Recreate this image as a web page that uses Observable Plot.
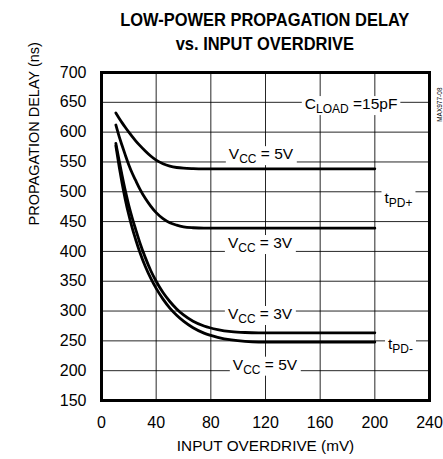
<!DOCTYPE html>
<html>
<head>
<meta charset="utf-8">
<script src="https://cdn.jsdelivr.net/npm/d3@7"></script>
<script src="https://cdn.jsdelivr.net/npm/@observablehq/plot@0.6"></script>
<style>
  html, body { margin: 0; padding: 0; background: #fff; }
  #title {
    margin-left: 101px; width: 328px; height: 62px; box-sizing: border-box;
    padding-top: 8px; text-align: center;
    font-family: "Liberation Sans", Arial, sans-serif; font-weight: bold;
    font-size: 17.5px; line-height: 24px; color: #000; white-space: nowrap;
  }
  #title span { display: inline-block; transform: scaleX(0.94); transform-origin: center; }
  #chart svg { display: block; }
</style>
</head>
<body>
<div id="title"><span>LOW-POWER PROPAGATION DELAY</span><br><span>vs. INPUT OVERDRIVE</span></div>
<div id="chart"></div>
<script>
// ---- data ----
const overdrive_mV = [10.5, 13, 15, 17.5, 20, 22.5, 25, 28, 32, 36, 40, 45, 50, 55, 60, 67, 75, 85, 95, 105, 115, 130, 200];
const tpdPlus_5V  = [632, 623, 616, 607.8, 600, 592.6, 585.5, 577.8, 568.5, 560, 553, 547, 543, 540.7, 539.5, 538.8, 538.5, 538.5, 538.5, 538.5, 538.5, 538.5, 538.5];
const tpdPlus_3V  = [612, 592, 578, 561, 545, 531, 519, 505, 489, 476, 465, 455, 448, 444, 441.3, 439.7, 439, 439, 439, 439, 439, 439, 439];
const tpdMinus_3V = [581, 551, 528, 501, 477, 456, 437, 415, 390, 368, 350, 331, 316, 303.5, 293.5, 283, 275, 269, 265.5, 264, 263.5, 263.5, 263.5];
const tpdMinus_5V = [577, 541, 515, 486, 461, 439, 420, 399, 375, 355, 338, 320, 305, 293, 283, 272, 263, 256, 251.5, 249, 248, 248, 248];
const seriesNames = ["tPD+ VCC=5V", "tPD+ VCC=3V", "tPD- VCC=3V", "tPD- VCC=5V"];
const seriesValues = [tpdPlus_5V, tpdPlus_3V, tpdMinus_3V, tpdMinus_5V];

const xTicks = [0, 40, 80, 120, 160, 200, 240];
const yTicks = [150, 200, 250, 300, 350, 400, 450, 500, 550, 600, 650, 700];

const annText = ["C_{LOAD} =15pF", "V_{CC} = 5V", "t_{PD+}", "V_{CC} = 3V", "V_{CC} = 3V", "t_{PD-}", "V_{CC} = 5V"];
const annX    = [182.6, 116.7, 217.3, 116, 116, 218.8, 119.6];
const annY    = [647, 563, 489, 414, 295, 244, 210];

const xLabel = "INPUT OVERDRIVE (mV)";
const yLabel = "PROPAGATION DELAY (ns)";
const figId = "MAX977-08";

// ---- build table ----
const rows = [];
seriesNames.forEach((name, s) => {
  overdrive_mV.forEach((x, i) => rows.push({series: name, x, y: seriesValues[s][i]}));
});

const font = '"Liberation Sans", Arial, sans-serif';

const svg = Plot.plot({
  width: 443,
  height: 397,
  marginTop: 10,
  marginBottom: 59,
  marginLeft: 101,
  marginRight: 14,
  x: {domain: [0, 240]},
  y: {domain: [150, 700]},
  style: {fontFamily: font, fontSize: "16px", color: "#000", background: "#fff", overflow: "visible"},
  marks: [
    Plot.gridX(xTicks, {stroke: "#000", strokeOpacity: 0.85, strokeWidth: 1}),
    Plot.gridY(yTicks, {stroke: "#000", strokeOpacity: 0.85, strokeWidth: 1}),
    Plot.line(rows, {x: "x", y: "y", z: "series", curve: "monotone-x", stroke: "#000", strokeWidth: 2.8}),
    Plot.frame({stroke: "#000", strokeWidth: 3}),
    Plot.axisX(xTicks, {tickSize: 0, tickPadding: 16, label: null}),
    Plot.axisY(yTicks, {tickSize: 0, tickPadding: 15, label: null}),
    Plot.text([yLabel], {text: d => d, frameAnchor: "left", rotate: -90, dx: -67, dy: -11, fontSize: 14.5}),
    Plot.text([xLabel], {text: d => d, frameAnchor: "bottom", dy: 50, fontSize: 15.3}),
    Plot.text([figId], {text: d => d, frameAnchor: "top-right", rotate: -90, dx: 8, dy: 15, fontSize: 6.5}),
    Plot.text(annText, {x: (d, i) => annX[i], y: (d, i) => annY[i], text: d => d, fontSize: 15.5})
  ]
});
document.getElementById("chart").append(svg);

// ---- subscripts and white label backgrounds ----
const lineG = svg.querySelector('g[aria-label="line"]');
const bgG = document.createElementNS("http://www.w3.org/2000/svg", "g");
svg.insertBefore(bgG, lineG);
svg.querySelectorAll("text").forEach(t => {
  const s = t.textContent;
  if (!/_\{/.test(s)) return;
  t.textContent = "";
  const parts = s.split(/(_\{[^}]*\})/).filter(p => p.length);
  let shifted = false;
  parts.forEach(p => {
    const ts = document.createElementNS("http://www.w3.org/2000/svg", "tspan");
    if (p.startsWith("_{")) {
      ts.textContent = p.slice(2, -1);
      ts.setAttribute("font-size", "12");
      ts.setAttribute("dy", "4");
      shifted = true;
    } else {
      ts.textContent = p;
      if (shifted) { ts.setAttribute("dy", "-4"); shifted = false; }
    }
    t.appendChild(ts);
  });
  const b = t.getBBox();
  const r = document.createElementNS("http://www.w3.org/2000/svg", "rect");
  r.setAttribute("x", b.x - 3);
  r.setAttribute("y", b.y + 1);
  r.setAttribute("width", b.width + 6);
  r.setAttribute("height", b.height - 2);
  r.setAttribute("fill", "#fff");
  const tr = t.getAttribute("transform");
  const ptr = t.parentNode.getAttribute("transform");
  const g2 = document.createElementNS("http://www.w3.org/2000/svg", "g");
  if (ptr) g2.setAttribute("transform", ptr);
  if (tr) r.setAttribute("transform", tr);
  g2.appendChild(r);
  bgG.appendChild(g2);
});
</script>
</body>
</html>
